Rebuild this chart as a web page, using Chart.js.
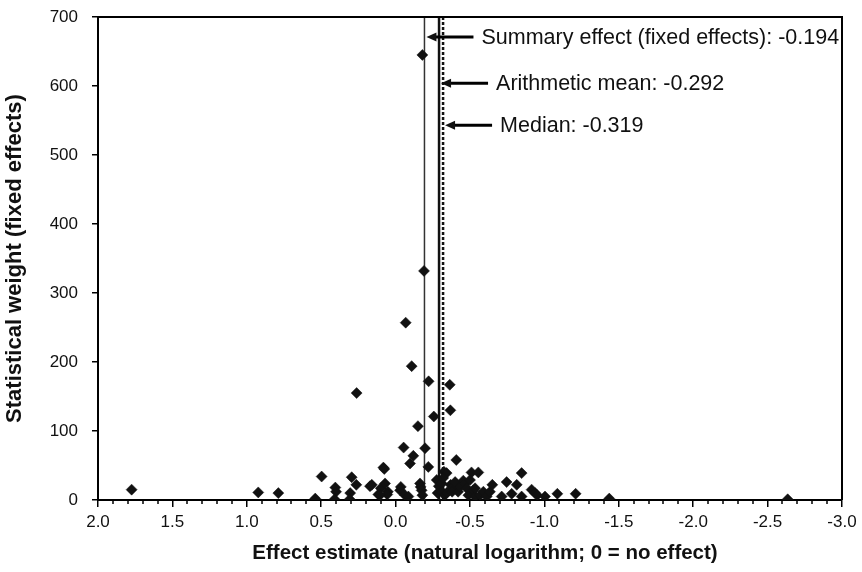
<!DOCTYPE html>
<html>
<head>
<meta charset="utf-8">
<script src="https://cdn.jsdelivr.net/npm/chart.js@4.4.0/dist/chart.umd.min.js"></script>
<style>
  html, body { margin: 0; padding: 0; background: #fff; }
</style>
</head>
<body>
<canvas id="funnelChart" width="862" height="572"></canvas>
<script>
// === DATA ===
// effect estimate (ln) of each study
const effectX = [
  -0.18, -0.191, -0.068, -0.108, -0.222, -0.364, 0.262, -0.368, -0.257, -0.150,
  -0.054, -0.198, -0.119, -0.097, -0.408, 0.082, 0.076, -0.220, -0.325, -0.343,
  -0.51, -0.556, -0.847,
  1.774, 0.923, 0.788, 0.540, 0.497, 0.405, 0.400, 0.410, 0.295, 0.305,
  0.308, 0.264, 0.172, 0.160, 0.116, 0.100, 0.071, 0.052, 0.056, 0.105,
  -0.035, -0.030, -0.063, -0.086, -0.164, -0.168, -0.175, -0.180,
  -0.276, -0.290, -0.282, -0.310, -0.320, -0.312, -0.330, -0.343, -0.370, -0.377,
  -0.380, -0.400, -0.420, -0.433, -0.455, -0.466, -0.478, -0.489, -0.500, -0.522,
  -0.534, -0.534, -0.567, -0.590, -0.612, -0.634, -0.650, -0.713, -0.746, -0.780,
  -0.814, -0.847, -0.914, -0.937, -0.952, -1.004, -1.087, -1.210, -1.436, -2.635
];
// statistical weight (fixed effects) of each study
const weightY = [
  645, 332, 257, 194, 172, 167, 155, 130, 121, 107,
  76, 75, 64, 53, 58, 47, 45, 48, 41, 39,
  40, 40, 39,
  15, 11, 10, 2, 34, 18, 12, 1, 33, 10,
  1, 22, 20, 22, 8, 17, 24, 12, 8, 7,
  19, 14, 7, 5, 24, 19, 14, 7,
  29, 20, 10, 24, 32, 12, 7, 10, 22, 17,
  12, 26, 12, 19, 28, 24, 17, 7, 29, 14,
  5, 17, 7, 12, 5, 12, 22, 5, 26, 9,
  22, 5, 15, 10, 7, 5, 9, 9, 2, 1
];

const summaryEffect = -0.194;
const arithmeticMean = -0.292;
const medianEffect = -0.319;

const xTicks = [2.0, 1.5, 1.0, 0.5, 0.0, -0.5, -1.0, -1.5, -2.0, -2.5, -3.0];
const yTicks = [0, 100, 200, 300, 400, 500, 600, 700];

const labelSummary = 'Summary effect (fixed effects): ' + summaryEffect.toFixed(3);
const labelMean = 'Arithmetic mean: ' + arithmeticMean.toFixed(3);
const labelMedian = 'Median: ' + medianEffect.toFixed(3);
const xTitle = 'Effect estimate (natural logarithm; 0 = no effect)';

const FONT = "'Liberation Sans', Arial, sans-serif";

// === OVERLAY: frame, minor ticks, arrows, x title ===
const overlayPlugin = {
  id: 'overlay',
  afterDatasetsDraw(chart) {
    const { ctx, chartArea: a, scales: { x, y } } = chart;
    ctx.save();
    ctx.strokeStyle = '#000';
    ctx.lineWidth = 2;
    ctx.beginPath();
    ctx.moveTo(a.left, a.top);
    ctx.lineTo(a.right, a.top);
    ctx.lineTo(a.right, a.bottom);
    ctx.stroke();

    // minor ticks every 0.1
    ctx.lineWidth = 1.5;
    for (let i = -30; i <= 20; i++) {
      if (i % 5 === 0) continue;
      const px = Math.round(x.getPixelForValue(i / 10));
      ctx.beginPath();
      ctx.moveTo(px, a.bottom);
      ctx.lineTo(px, a.bottom + 4);
      ctx.stroke();
    }

    // arrows + labels
    const notes = [
      [summaryEffect, 671, labelSummary],
      [arithmeticMean, 604, labelMean],
      [medianEffect, 543, labelMedian]
    ];
    ctx.fillStyle = '#111';
    ctx.font = '21.5px ' + FONT;
    ctx.textBaseline = 'middle';
    notes.forEach(([v, w, text]) => {
      const tip = x.getPixelForValue(v) + 2;
      const py = y.getPixelForValue(w);
      const tail = tip + 47;
      ctx.lineWidth = 3;
      ctx.beginPath();
      ctx.moveTo(tip + 8, py);
      ctx.lineTo(tail, py);
      ctx.stroke();
      ctx.beginPath();
      ctx.moveTo(tip, py);
      ctx.lineTo(tip + 10, py - 4.5);
      ctx.lineTo(tip + 10, py + 4.5);
      ctx.closePath();
      ctx.fill();
      ctx.fillText(text, tail + 8, py + 1);
    });

    // x axis title (sits a little right of the plot centre)
    ctx.font = 'bold 20.5px ' + FONT;
    ctx.textAlign = 'center';
    ctx.fillText(xTitle, (a.left + a.right) / 2 + 15, 553);
    ctx.restore();
  }
};

// === SCATTER ===
const points = effectX.map((v, i) => ({ x: v, y: weightY[i] }));
const vline = v => [{ x: v, y: 0 }, { x: v, y: 700 }];

new Chart(document.getElementById('funnelChart'), {
  type: 'scatter',
  data: {
    datasets: [
      {
        data: points,
        pointStyle: 'rectRot',
        pointRadius: 5.5,
        pointBorderWidth: 0.5,
        backgroundColor: '#111',
        borderColor: '#111'
      },
      {
        data: vline(summaryEffect), showLine: true, pointRadius: 0,
        borderColor: '#333', borderWidth: 1.5
      },
      {
        data: vline(arithmeticMean), showLine: true, pointRadius: 0,
        borderColor: '#111', borderWidth: 2.5
      },
      {
        data: vline(medianEffect), showLine: true, pointRadius: 0,
        borderColor: '#111', borderWidth: 2.5, borderDash: [3, 2]
      }
    ]
  },
  options: {
    responsive: false,
    animation: false,
    layout: { padding: { left: 0, right: 20, top: 17, bottom: 0 } },
    plugins: { legend: { display: false }, tooltip: { enabled: false } },
    scales: {
      x: {
        type: 'linear',
        reverse: true,
        min: -3,
        max: 2,
        afterBuildTicks: scale => { scale.ticks = xTicks.map(v => ({ value: v })); },
        afterFit: scale => { scale.height = 72; scale.paddingLeft = 0; scale.paddingRight = 0; },
        ticks: {
          color: '#111',
          font: { family: FONT, size: 17 },
          padding: 5,
          maxRotation: 0,
          callback: value => Number(value).toFixed(1)
        },
        grid: { drawOnChartArea: false, tickLength: 7, color: '#000', lineWidth: 1.5 },
        border: { color: '#000', width: 2 },
        title: { display: false }
      },
      y: {
        min: 0,
        max: 700,
        afterBuildTicks: scale => { scale.ticks = yTicks.map(v => ({ value: v })); },
        afterFit: scale => { scale.width = 98; scale.paddingTop = 0; scale.paddingBottom = 0; },
        ticks: {
          color: '#111',
          font: { family: FONT, size: 17 },
          padding: 14
        },
        grid: { drawOnChartArea: false, tickLength: 6, color: '#000', lineWidth: 1.5 },
        border: { color: '#000', width: 2 },
        title: {
          display: true,
          text: 'Statistical weight (fixed effects)',
          color: '#111',
          font: { family: FONT, size: 22, weight: 'bold' },
          padding: { top: 2, bottom: 0 }
        }
      }
    }
  },
  plugins: [overlayPlugin]
});
</script>
</body>
</html>
